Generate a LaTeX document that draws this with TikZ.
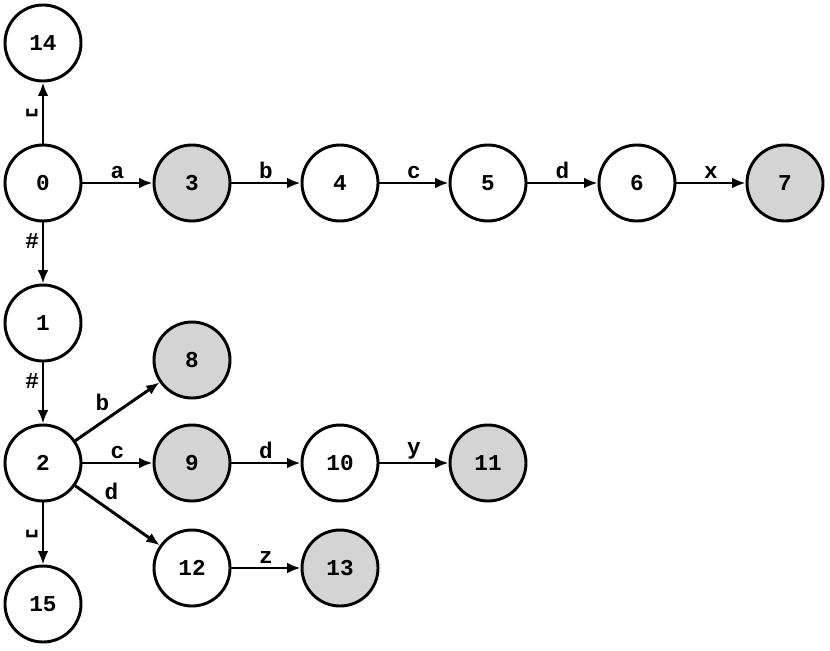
\documentclass[tikz,border=0pt]{standalone}
\usepackage{fontspec}
\setmonofont{Liberation Mono}
\newfontfamily\vsfont{DejaVu Sans Mono}
\usetikzlibrary{arrows.meta}
\begin{document}
\begin{tikzpicture}[x=0.75pt,y=-0.75pt,
  st/.style={circle,draw,line width=2.2pt,minimum size=57pt,inner sep=0pt,font=\ttfamily\bfseries\fontsize{17}{17}\selectfont,fill=white},
  acc/.style={st,fill=black!17},
  ed/.style={line width=2.2pt,-{Latex[length=10pt,width=8pt]}},
  lb/.style={font=\ttfamily\bfseries\fontsize{17}{17}\selectfont,inner sep=2pt}]
\useasboundingbox (0,0) rectangle (830,650);
\node[st] (n14) at (43,43) {14};
\node[st] (n0) at (43,183) {0};
\node[acc] (n3) at (192,183) {3};
\node[st] (n4) at (340,183) {4};
\node[st] (n5) at (488,183) {5};
\node[st] (n6) at (637,183) {6};
\node[acc] (n7) at (785,183) {7};
\node[st] (n1) at (43,323) {1};
\node[acc] (n8) at (192,360) {8};
\node[st] (n2) at (43,463) {2};
\node[acc] (n9) at (192,463) {9};
\node[st] (n10) at (340,463) {10};
\node[acc] (n11) at (488,463) {11};
\node[st] (n12) at (192,568) {12};
\node[acc] (n13) at (340,568) {13};
\node[st] (n15) at (43,604) {15};
\draw[ed] (n0) -- node[lb,left]{\vsfont\bfseries ␣} (n14);
\draw[ed] (n0) -- node[lb,above]{a} (n3);
\draw[ed] (n3) -- node[lb,above]{b} (n4);
\draw[ed] (n4) -- node[lb,above]{c} (n5);
\draw[ed] (n5) -- node[lb,above]{d} (n6);
\draw[ed] (n6) -- node[lb,above]{x} (n7);
\draw[ed] (n0) -- node[lb,pos=0.3,left]{\#} (n1);
\draw[ed] (n1) -- node[lb,pos=0.3,left]{\#} (n2);
\draw[ed] (n2) -- node[lb,pos=0.45,above left]{b} (n8);
\draw[ed] (n2) -- node[lb,above]{c} (n9);
\draw[ed] (n9) -- node[lb,above]{d} (n10);
\draw[ed] (n10) -- node[lb,above]{y} (n11);
\draw[ed] (n2) -- node[lb,pos=0.3,above right]{d} (n12);
\draw[ed] (n12) -- node[lb,above]{z} (n13);
\draw[ed] (n2) -- node[lb,left]{\vsfont\bfseries ␣} (n15);
\end{tikzpicture}
\end{document}
